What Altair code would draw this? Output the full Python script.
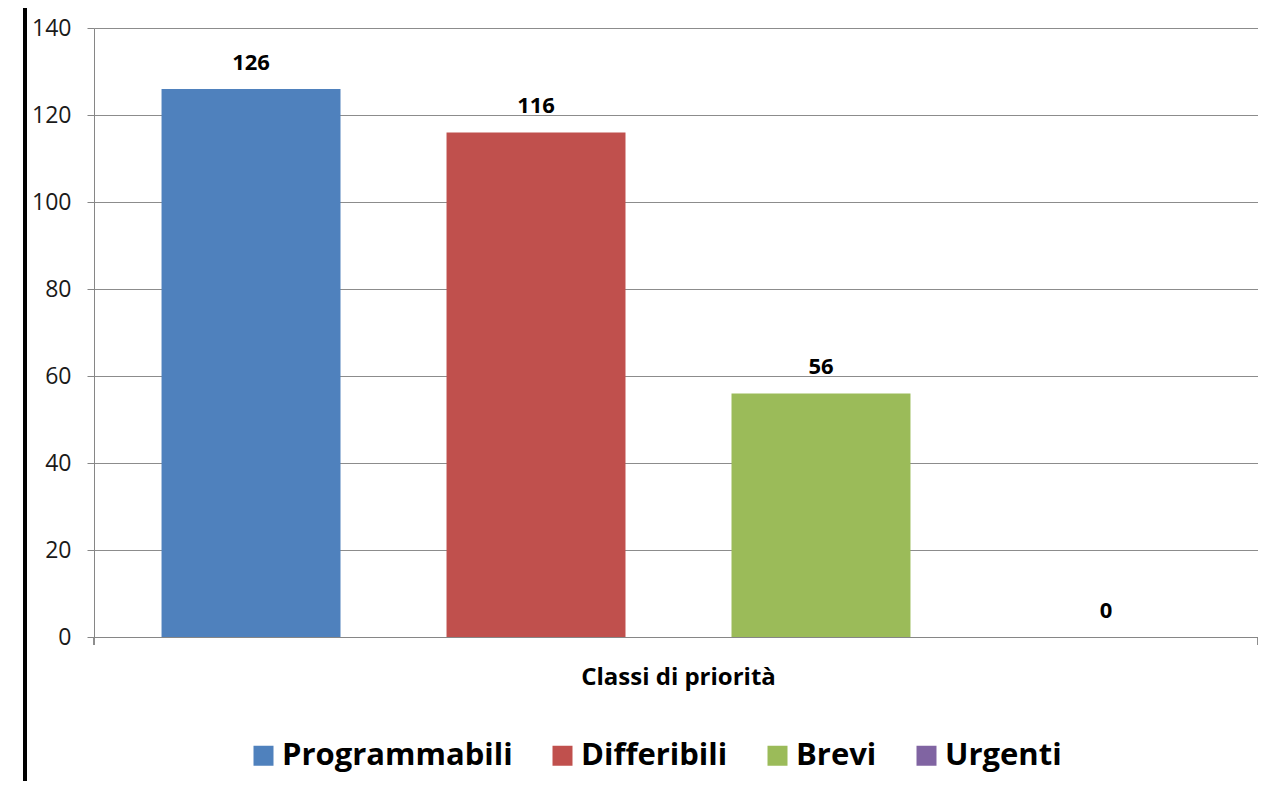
import altair as alt
import pandas as pd

series = ["Programmabili", "Differibili", "Brevi", "Urgenti"]
values = [126, 116, 56, 0]
colors = ["#4F81BD", "#C0504D", "#9BBB59", "#8064A2"]
y_ticks = [0, 20, 40, 60, 80, 100, 120, 140]
x_title = "Classi di priorità"

df = pd.DataFrame({"serie": series, "valore": values})

W, H = 1164, 609
FONT = "Open Sans"

x = alt.X("serie:N", sort=series,
          scale=alt.Scale(paddingInner=0.372, paddingOuter=0.237, range=[0, 1169]),
          axis=alt.Axis(title=x_title, labels=False, ticks=False, domain=True,
                        domainColor="#868686", titleFontSize=24, titleFontWeight="bold",
                        titleFont=FONT, titleColor="#000000", titlePadding=28,
                        titleX=584))
y = alt.Y("valore:Q", scale=alt.Scale(domain=[0, 140], nice=False),
          axis=alt.Axis(title=None, values=y_ticks, labelFontSize=23, labelFont=FONT,
                        labelColor="#1a1a1a", tickSize=7, tickColor="#868686",
                        domainColor="#868686", gridColor="#8c8c8c", labelPadding=16))

bars = alt.Chart(df).mark_bar().encode(
    x=x, y=y,
    color=alt.Color("serie:N", sort=series,
                    scale=alt.Scale(domain=series, range=colors),
                    legend=alt.Legend(title=None, orient="none", direction="horizontal",
                                      legendX=154, legendY=712, symbolType="square",
                                      symbolSize=400, symbolStrokeWidth=0,
                                      labelFontSize=31, labelFont=FONT, labelFontWeight="bold",
                                      labelColor="#000000", columnPadding=34, labelOffset=3,
                                      labelLimit=400)),
)

labels = alt.Chart(df).mark_text(baseline="alphabetic", dy=-19, fontSize=22, fontWeight="bold",
                                 font=FONT, color="#000000").encode(
    x=alt.X("serie:N", sort=series), y="valore:Q", text="valore:Q")

tick_left = alt.Chart(df).mark_rule(color="#868686").encode(
    x=alt.value(0), y=alt.value(H), y2=alt.value(H + 8))
tick_right = alt.Chart(df).mark_rule(color="#868686").encode(
    x=alt.value(W), y=alt.value(H), y2=alt.value(H + 8))

black_line = alt.Chart(df).mark_rule(color="#000000", strokeWidth=4).encode(
    x=alt.value(-69), y=alt.value(-20), y2=alt.value(H + 144))

chart = alt.layer(bars, labels, tick_left, tick_right, black_line).properties(
    width=W, height=H,
    autosize=alt.AutoSizeParams(type="none"),
    padding={"left": 86, "top": 20, "right": 0, "bottom": 144},
).configure_view(stroke=None).configure_axis(grid=True).configure_axisX(grid=False)

chart.save("out.html", embed_options={"renderer": "svg", "actions": False})
